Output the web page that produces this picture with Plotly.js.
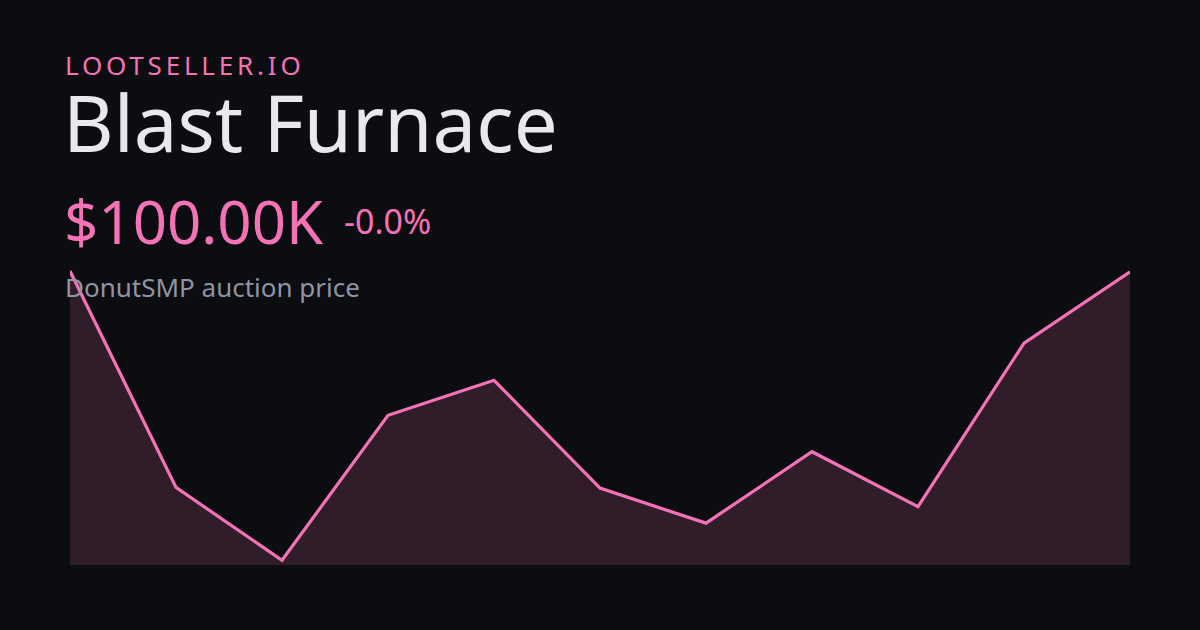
<!DOCTYPE html>
<html>
<head>
<meta charset="utf-8">
<script src="https://cdn.plot.ly/plotly-3.0.1.min.js"></script>
<style>
html,body{margin:0;padding:0;background:#0c0d10;}
#chart{width:1200px;height:630px;}
</style>
</head>
<body>
<div id="chart"></div>
<script>
// Data (auction price, USD)
const days = ['D1','D2','D3','D4','D5','D6','D7','D8','D9','D10','D11'];
const prices = [100010, 96980, 95960, 97990, 98480, 96970, 96480, 97480, 96710, 99000, 100000];
const brand = 'LOOTSELLER.IO';
const itemName = 'Blast Furnace';
const subtitle = 'DonutSMP auction price';

const pink = '#f472b6';
const last = prices[prices.length - 1];
const first = prices[0];
const change = (last - first) / first * 100;
const priceText = '$' + (last / 1000).toFixed(2) + 'K';
const changeText = (change < 0 ? '-' : '+') + Math.abs(change).toFixed(1) + '%';

const font = 'Noto Sans, Open Sans, DejaVu Sans, sans-serif';

const trace = {
  x: days,
  y: prices,
  type: 'scatter',
  mode: 'lines',
  line: {color: pink, width: 3.2},
  fill: 'tozeroy',
  fillcolor: 'rgba(244,114,182,0.16)',
  hoverinfo: 'skip'
};

// plot area: y 250..565 px, height 315
function py(pix){ return (565 - pix) / 315; }
function px(pix){ return (pix - 70) / 1060; }

const layout = {
  width: 1200, height: 630,
  paper_bgcolor: '#0c0d10',
  plot_bgcolor: 'rgba(0,0,0,0)',
  margin: {l: 70, r: 70, t: 250, b: 65},
  showlegend: false,
  xaxis: {visible: false, range: [0, 10], fixedrange: true},
  yaxis: {visible: false, range: [95894, 100304], fixedrange: true},
  annotations: [
    {xref: 'paper', yref: 'paper', x: px(63), y: py(65), xanchor: 'left', yanchor: 'middle', showarrow: false,
     text: '<span style="letter-spacing:3.8px">' + brand + '</span>', font: {family: font, size: 26, color: pink}},
    {xref: 'paper', yref: 'paper', x: px(61), y: py(122), xanchor: 'left', yanchor: 'middle', showarrow: false,
     text: itemName, font: {family: font, size: 78, color: '#e8e9ee'}},
    {xref: 'paper', yref: 'paper', x: px(62), y: py(220.5), xanchor: 'left', yanchor: 'middle', showarrow: false,
     text: priceText, font: {family: font, size: 60, color: pink}},
    {xref: 'paper', yref: 'paper', x: px(341.5), y: py(221), xanchor: 'left', yanchor: 'middle', showarrow: false,
     text: changeText, font: {family: font, size: 34, color: pink}},
    {xref: 'paper', yref: 'paper', x: px(63), y: py(287), xanchor: 'left', yanchor: 'middle', showarrow: false,
     text: subtitle, font: {family: font, size: 26, color: '#8f94a3'}}
  ]
};

Plotly.newPlot('chart', [trace], layout, {staticPlot: true, displayModeBar: false});
</script>
</body>
</html>
